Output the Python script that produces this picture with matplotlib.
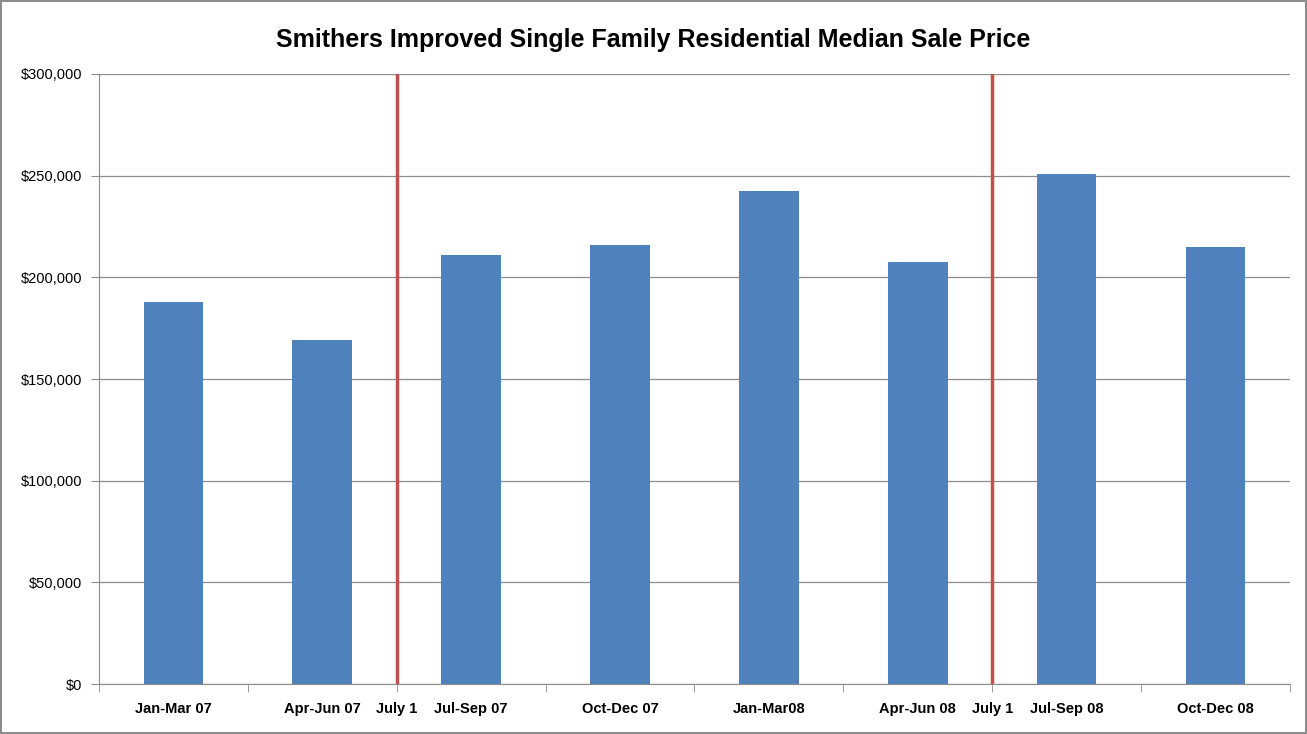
import matplotlib.pyplot as plt
import numpy as np
from matplotlib.ticker import FuncFormatter, MultipleLocator

categories = ['Jan-Mar 07', 'Apr-Jun 07', 'Jul-Sep 07', 'Oct-Dec 07',
              'Jan-Mar08', 'Apr-Jun 08', 'Jul-Sep 08', 'Oct-Dec 08']
prices = [188000, 169000, 211000, 216000, 242500, 207500, 251000, 215000]
# markers sit on the boundary between two quarters
july_marks = [1.5, 5.5]
july_label = 'July 1'

plt.rcParams['font.family'] = ['Liberation Sans Narrow', 'Liberation Sans', 'DejaVu Sans']

fig = plt.figure(figsize=(13.07, 7.34), dpi=100)
fig.patch.set_edgecolor('#8c8c8c')
fig.patch.set_linewidth(1.5)
ax = fig.add_axes([0.0757, 0.0681, 0.9113, 0.8311])

x = np.arange(len(categories))
ax.bar(x, prices, width=0.4, color='#4f81bd', zorder=3)

for m in july_marks:
    ax.axvline(m, color='#c0504d', lw=2.5, zorder=4)

ax.set_xlim(-0.5, len(categories) - 0.5)
ax.set_ylim(0, 300000)
ax.yaxis.set_major_locator(MultipleLocator(50000))
ax.yaxis.set_major_formatter(FuncFormatter(lambda v, p: '${:,.0f}'.format(v)))
ax.grid(axis='y', color='#8c8c8c', lw=0.9, zorder=0)

lab_pad = 13
ax.set_xticks(x)
ax.set_xticklabels(categories, fontsize=10.5, fontweight='bold')
ax.set_xticks(np.arange(-0.5, len(categories)), minor=True)
ax.tick_params(axis='x', which='major', length=0, pad=lab_pad)
ax.tick_params(axis='x', which='minor', length=6, color='#8c8c8c', direction='out')
ax.tick_params(axis='y', length=6, color='#8c8c8c', labelsize=10.5, pad=6)

for m in july_marks:
    ax.annotate(july_label, xy=(m, 0), xycoords=('data', 'axes fraction'),
                xytext=(0, -lab_pad), textcoords='offset points',
                ha='center', va='top', fontsize=10.5, fontweight='bold')

for s in ['top', 'right']:
    ax.spines[s].set_visible(False)
for s in ['left', 'bottom']:
    ax.spines[s].set_color('#8c8c8c')

fig.suptitle('Smithers Improved Single Family Residential Median Sale Price',
             y=0.962, fontsize=18, fontweight='bold')

fig.savefig('out.png', dpi=100)
